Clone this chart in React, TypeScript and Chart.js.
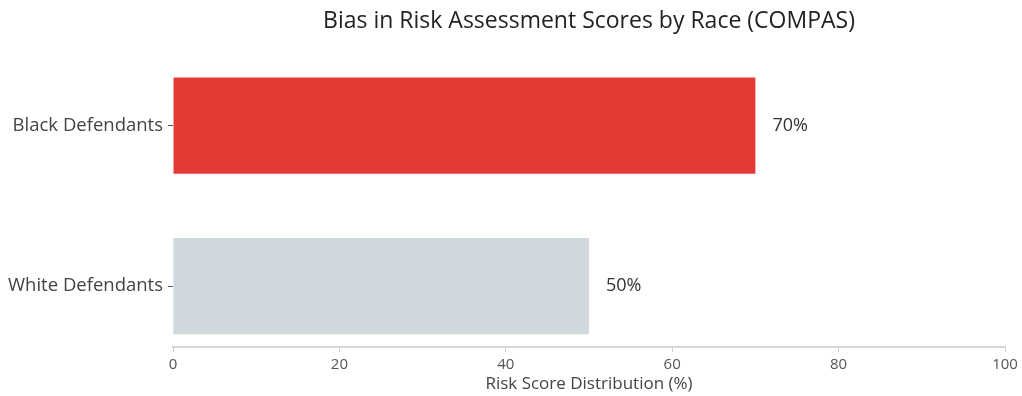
import React, { useEffect, useRef } from "react";
import { Chart, registerables } from "chart.js";

Chart.register(...registerables);

const categories = ["Black Defendants", "White Defendants"];
const values = [70, 50];
const barColors = ["#E53935", "#CFD8DC"];
const xTicks = [0, 20, 40, 60, 80, 100];

const FONT = "'Open Sans', sans-serif";

const valueLabels = {
  id: "valueLabels",
  afterDatasetsDraw(chart: any) {
    const { ctx } = chart;
    const meta = chart.getDatasetMeta(0);
    ctx.save();
    ctx.font = `18px ${FONT}`;
    ctx.fillStyle = "#333333";
    ctx.textAlign = "left";
    ctx.textBaseline = "middle";
    meta.data.forEach((bar: any, i: number) => {
      ctx.fillText(values[i] + "%", bar.x + 17, bar.y);
    });
    ctx.restore();
  },
};

export default function App() {
  const ref = useRef<HTMLCanvasElement | null>(null);
  useEffect(() => {
    if (!ref.current) return;
    const chart = new Chart(ref.current, {
      type: "bar",
      data: {
        datasets: [
          {
            data: values.map((v, i) => ({ x: v, y: i })) as any,
            backgroundColor: barColors,
            borderWidth: 0,
            barPercentage: 0.6,
            categoryPercentage: 1,
          },
        ],
      },
      options: {
        indexAxis: "y",
        animation: false,
        responsive: true,
        maintainAspectRatio: false,
        layout: { padding: { left: 0, right: 17, top: 0, bottom: 2 } },
        plugins: {
          legend: { display: false },
          tooltip: { enabled: false },
          title: {
            display: true,
            text: "Bias in Risk Assessment Scores by Race (COMPAS)",
            fullSize: false,
            color: "#222222",
            font: { family: FONT, size: 23, weight: "normal" },
            padding: { top: 8, bottom: 29 },
          },
        },
        scales: {
          x: {
            type: "linear",
            min: 0,
            max: 100,
            afterBuildTicks: (s: any) => {
              s.ticks = xTicks.map((v) => ({ value: v }));
            },
            afterFit: (s: any) => {
              s.height = 47;
            },
            grid: {
              drawOnChartArea: false,
              drawTicks: true,
              tickLength: 5,
              color: "#cccccc",
            },
            border: { display: true, color: "#d6d6d6", width: 2 },
            ticks: {
              color: "#555555",
              font: { family: FONT, size: 15 },
              padding: 4,
            },
            title: {
              display: true,
              text: "Risk Score Distribution (%)",
              color: "#444444",
              font: { family: FONT, size: 17 },
              padding: { top: 0, bottom: 0 },
            },
          },
          y: {
            type: "linear",
            reverse: true,
            offset: false,
            min: -0.38,
            max: 1.38,
            bounds: "data",
            afterBuildTicks: (s: any) => {
              s.ticks = categories.map((_, i) => ({ value: i }));
            },
            afterFit: (s: any) => {
              s.width = 173;
            },
            grid: {
              offset: false,
              drawOnChartArea: false,
              drawTicks: true,
              tickLength: 5,
              color: "#555555",
            },
            border: { display: false },
            ticks: {
              color: "#444444",
              font: { family: FONT, size: 18.5 },
              padding: 5,
              callback: (v: any) => categories[v] ?? "",
            },
          },
        },
      },
      plugins: [valueLabels],
    });
    return () => chart.destroy();
  }, []);
  return (
    <div style={{ position: "fixed", left: 0, top: 0, width: 1022, height: 396, background: "#fff" }}>
      <canvas ref={ref} />
    </div>
  );
}
